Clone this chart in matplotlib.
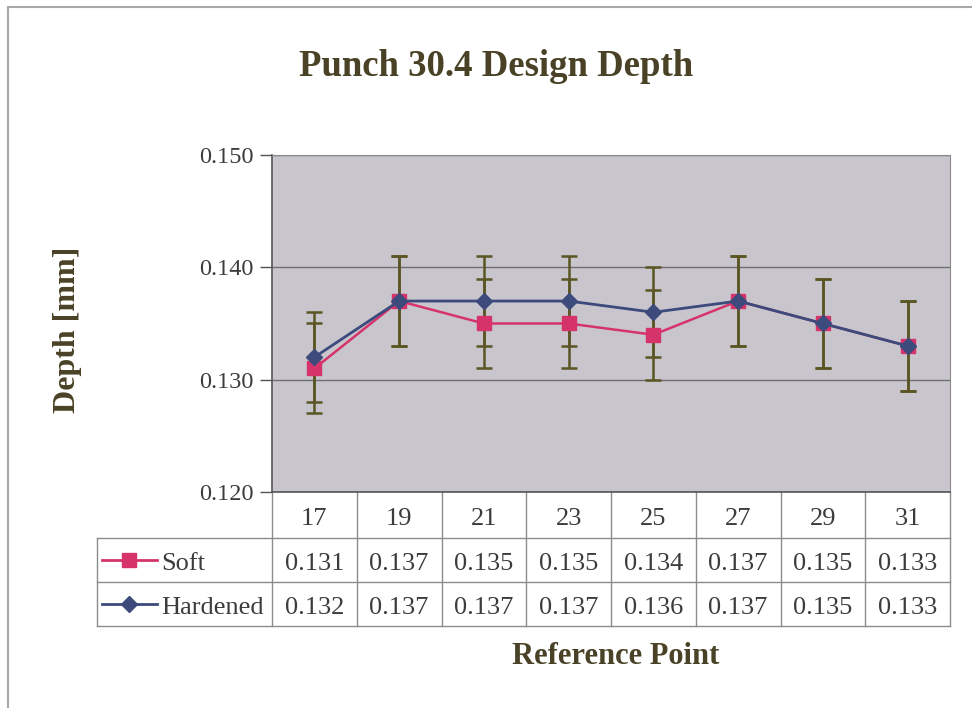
import matplotlib.pyplot as plt
from matplotlib.patches import Rectangle

# values
points = ['17', '19', '21', '23', '25', '27', '29', '31']
soft = [0.131, 0.137, 0.135, 0.135, 0.134, 0.137, 0.135, 0.133]
hardened = [0.132, 0.137, 0.137, 0.137, 0.136, 0.137, 0.135, 0.133]
soft_err = [0.004] * 8
hard_err = [0.004] * 8
yticks = [0.120, 0.130, 0.140, 0.150]

SOFT_C = '#d6336b'
HARD_C = '#3d4a7c'
ERR_C = '#5a5522'
TXT_C = '#4a4226'
CELL_TXT = '#3c3c3c'
GRID_C = '#8c8c8c'

plt.rcParams['font.family'] = ['Liberation Serif', 'DejaVu Serif']

fig = plt.figure(figsize=(9.72, 7.08), dpi=100)
W, H = 972, 708

# outer chart frame
fig.add_artist(Rectangle((8 / W, -0.1), 1.2, 1 - 7 / H + 0.1, transform=fig.transFigure,
                         fill=False, edgecolor='#a8a8a8', linewidth=1.5))

ax = fig.add_axes([272 / W, 1 - 492 / H, 678 / W, 337 / H])
ax.set_facecolor('#c9c5cd')

x = list(range(len(points)))
ax.errorbar(x, soft, yerr=soft_err, fmt='none', ecolor=ERR_C, elinewidth=1.8,
            capsize=6, capthick=1.8, zorder=2)
ax.errorbar(x, hardened, yerr=hard_err, fmt='none', ecolor=ERR_C, elinewidth=1.8,
            capsize=6, capthick=1.8, zorder=2)
ax.plot(x, soft, color=SOFT_C, lw=1.8, marker='s', ms=10, zorder=3)
ax.plot(x, hardened, color=HARD_C, lw=2, marker='D', ms=8, zorder=4)

ax.set_xlim(-0.5, len(points) - 0.5)
ax.set_ylim(0.120, 0.150)
ax.set_yticks(yticks)
ax.set_yticklabels(['%.3f' % v for v in yticks], fontsize=17.5, color=CELL_TXT)
ax.tick_params(axis='y', direction='out', length=9, width=1, color='#555555', pad=4)
ax.set_xticks([])
ax.yaxis.grid(True, color='#6e6e6e', lw=1)
ax.set_axisbelow(True)
for s in ['top', 'right']:
    ax.spines[s].set_color('#8a8a8a')
for s in ['left', 'bottom']:
    ax.spines[s].set_color('#555555')
    ax.spines[s].set_linewidth(1.2)

fig.text(496 / W, 1 - 67 / H, 'Punch 30.4 Design Depth', ha='center', va='center',
         fontsize=26.5, fontweight='bold', color=TXT_C)
fig.text(67 / W, 1 - 330 / H, 'Depth [mm]', ha='center', va='center', rotation=90,
         fontsize=23, fontweight='bold', color=TXT_C)
fig.text(616 / W, 1 - 656 / H, 'Reference Point', ha='center', va='center',
         fontsize=22, fontweight='bold', color=TXT_C)

# data table under the plot, drawn in axes coordinates
aw, ah = 678.0, 337.0
n = len(points)
tb_left = (97 - 272) / aw
rows_y = [0, -46 / ah, -90 / ah, -134 / ah]
tk = dict(transform=ax.transAxes, clip_on=False, color=GRID_C, lw=1)
for yy in rows_y[1:]:
    ax.plot([tb_left, 1], [yy, yy], **tk)
ax.plot([tb_left, tb_left], [rows_y[1], rows_y[3]], **tk)
for i in range(n + 1):
    ax.plot([i / n, i / n], [0, rows_y[3]], **tk)

cell_kw = dict(transform=ax.transAxes, ha='center', va='center', fontsize=19, color=CELL_TXT)
off = -4 / ah  # nudge text down a little, like the reference
hy = (rows_y[0] + rows_y[1]) / 2
sy = (rows_y[1] + rows_y[2]) / 2
dy = (rows_y[2] + rows_y[3]) / 2
for i in range(n):
    xc = (i + 0.5) / n
    ax.text(xc, hy + off, points[i], **cell_kw)
    ax.text(xc, sy + off, '%.3f' % soft[i], **cell_kw)
    ax.text(xc, dy + off, '%.3f' % hardened[i], **cell_kw)

# legend keys inside the row labels
for yy, name, col, mk, ms in [(sy, 'Soft', SOFT_C, 's', 10), (dy, 'Hardened', HARD_C, 'D', 8)]:
    ax.plot([(102 - 272) / aw, (157 - 272) / aw], [yy, yy], transform=ax.transAxes,
            color=col, lw=2, clip_on=False)
    ax.plot([(129 - 272) / aw], [yy], transform=ax.transAxes, color=col, marker=mk,
            ms=ms, clip_on=False)
    ax.text((161 - 272) / aw, yy + off, name, transform=ax.transAxes, ha='left', va='center',
            fontsize=19, color=CELL_TXT)

fig.savefig('out.png', dpi=100)
